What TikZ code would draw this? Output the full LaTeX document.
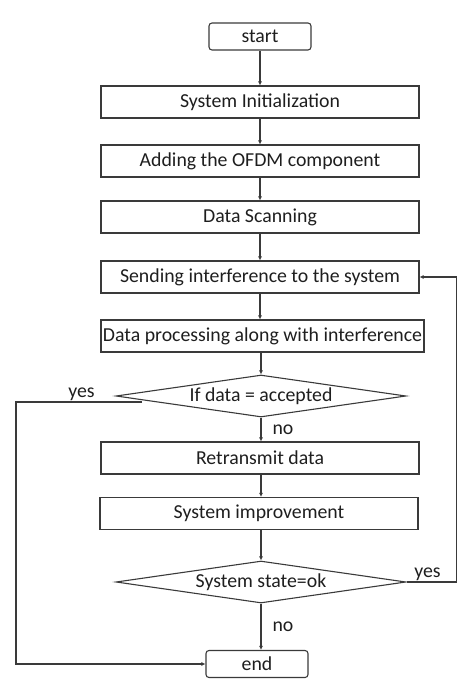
\documentclass[tikz,border=0pt]{standalone}
\usepackage{fontspec}
\setmainfont{Carlito}
\usetikzlibrary{shapes.geometric,arrows.meta}
\definecolor{mline}{HTML}{3A3A3A}
\definecolor{mtext}{HTML}{1E1E1E}

\begin{document}
\begin{tikzpicture}[x=1pt, y=-1pt, line width=1.1pt,
        font=\fontsize{19.8}{22}\selectfont, text=mtext,
        box/.style={draw=mline, minimum width=318pt, minimum height=32pt, inner sep=0pt},
        term/.style={draw=mline, rounded corners=3pt, minimum width=102pt, minimum height=27pt, inner sep=0pt},
        cond/.style={draw=mline, diamond, aspect=6.9, minimum width=290pt, minimum height=42pt, inner sep=0pt},
        arr/.style={draw=mline, -{Latex[length=4pt,width=4pt]}}]
    \useasboundingbox (0,0) rectangle (463,680);
    \node[term] (start) at (260,36.5) {start};
    \node[box] (init) at (260,102) {System Initialization};
    \node[box] (ofdm) at (260,161) {Adding the OFDM component};
    \node[box] (scan) at (260,217) {Data Scanning};
    \node[box] (send) at (260,277) {Sending interference to the system};
    \node[box, minimum width=323pt] (proc) at (262.5,336) {Data processing along with interference};
    \node[cond] (dec1) at (261,396) {If data = accepted};
    \node[box] (retx) at (260,458) {Retransmit data};
    \node[box] (impr) at (259,513.5) {System improvement};
    \node[cond] (dec2) at (261,582) {System state=ok};
    \node[term] (end) at (257,664) {end};
    \coordinate (yA) at (142,402);
    % main line
    \draw[arr] (start) -- (init);
    \draw[arr] (init) -- (ofdm);
    \draw[arr] (ofdm) -- (scan);
    \draw[arr] (scan) -- (send);
    \draw[arr] (send) -- (send |- proc.north);
    \draw[arr] (proc.south -| dec1) -- (dec1);
    \draw[arr] (dec1) -- node[xshift=22pt] {no} (dec1 |- retx.north);
    \draw[arr] (retx.south -| dec1) -- (dec1 |- impr.north);
    \draw[arr] (impr.south -| dec1) -- (dec2);
    \draw[arr] (dec2) -- node[xshift=22pt] {no} (dec2 |- end.north);
    % yes branches
    \draw[arr] (yA) -- node[above, pos=0.48, inner sep=1pt] {yes} ++(-126,0) |- (end.west);
    \draw[arr] (dec2.east) -- node[above, pos=0.42, inner sep=1pt] {yes} ++(50,0) |- (send.east);
\end{tikzpicture}
\end{document}
